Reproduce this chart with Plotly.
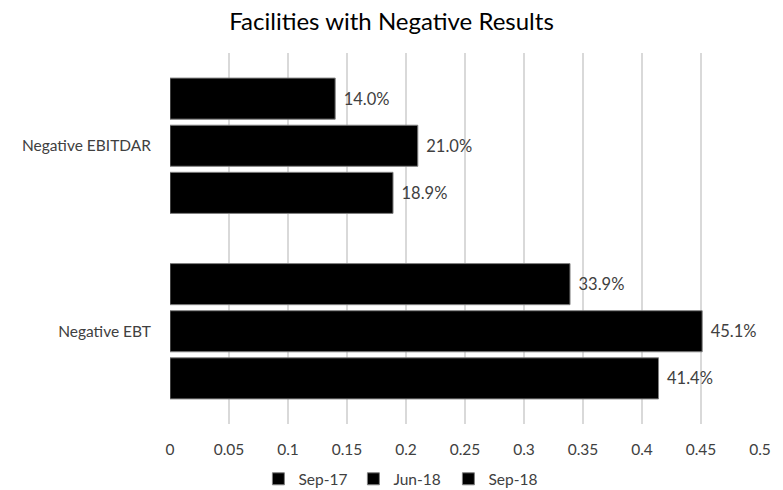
import plotly.graph_objects as go

# Share of facilities with negative results, by measure and period
categories = ["Negative EBT", "Negative EBITDAR"]
series_names = ["Sep-17", "Jun-18", "Sep-18"]
sep17 = [0.414, 0.189]
jun18 = [0.451, 0.210]
sep18 = [0.339, 0.140]
tick_vals = [0, 0.05, 0.1, 0.15, 0.2, 0.25, 0.3, 0.35, 0.4, 0.45, 0.5]
tick_text = ["0", "0.05", "0.1", "0.15", "0.2", "0.25", "0.3", "0.35", "0.4", "0.45", "0.5"]

FONT = "Lato, 'Open Sans', sans-serif"
TEXT = "#404040"
SIZE = 15.5

fig = go.Figure()
for name, vals in zip(series_names, [sep17, jun18, sep18]):
    fig.add_trace(go.Bar(
        name=name,
        y=categories,
        x=vals,
        orientation="h",
        marker=dict(color="#000000", line=dict(color="#808080", width=1)),
        texttemplate="\u2004%{x:.1%}",
        textposition="outside",
        textfont=dict(size=16.5, color=TEXT, family=FONT),
        cliponaxis=False,
    ))

fig.update_layout(
    width=783,
    height=490,
    margin=dict(l=170, r=23, t=53, b=66, autoexpand=False),
    paper_bgcolor="white",
    plot_bgcolor="white",
    barmode="group",
    bargap=0.238,
    bargroupgap=0.128,
    title=dict(
        text="Facilities with Negative Results",
        x=0.5, xanchor="center", xref="container",
        y=0.955, yanchor="middle", yref="container",
        font=dict(size=24, color="#000000", family=FONT),
    ),
    font=dict(family=FONT, color=TEXT, size=SIZE),
    legend=dict(
        orientation="h",
        xref="container", yref="container",
        x=0.512, xanchor="center",
        y=0.022, yanchor="middle",
        font=dict(size=SIZE, color=TEXT, family=FONT),
        itemwidth=30,
        entrywidth=50,
        entrywidthmode="pixels",
        traceorder="normal",
    ),
    xaxis=dict(
        range=[0, 0.5],
        tickvals=tick_vals,
        ticktext=tick_text,
        showgrid=True,
        gridcolor="#d9d9d9",
        gridwidth=1.5,
        zeroline=False,
        showline=False,
        ticks="",
        automargin=False,
        tickfont=dict(size=SIZE, color=TEXT, family=FONT),
        ticklabelstandoff=14,
    ),
    yaxis=dict(
        showgrid=False,
        zeroline=False,
        showline=False,
        ticks="",
        automargin=False,
        tickfont=dict(size=SIZE, color=TEXT, family=FONT),
        ticklabelstandoff=18,
    ),
)

fig.write_html("out.html")
